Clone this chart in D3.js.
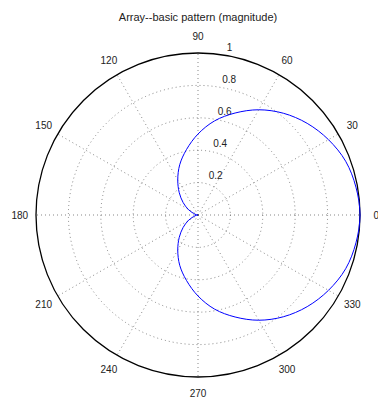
<!DOCTYPE html>
<html>
<head>
<meta charset="utf-8">
<script src="https://cdn.jsdelivr.net/npm/d3@7"></script>
<style>
  body { margin: 0; background: #fff; }
  text { font-family: "Liberation Sans", Arial, sans-serif; fill: #222; }
</style>
</head>
<body>
<svg width="378" height="399"></svg>
<script>
// angles (degrees) of the pattern samples
const angles = [0, 10, 20, 30, 40, 50, 60, 70, 80, 90, 100, 110, 120, 130, 140, 150, 160, 170,
  180, 190, 200, 210, 220, 230, 240, 250, 260, 270, 280, 290, 300, 310, 320, 330, 340, 350];
const magnitude = [1.0, 0.99, 0.97, 0.93, 0.88, 0.82, 0.75, 0.67, 0.59, 0.5, 0.41, 0.33, 0.25, 0.18, 0.12, 0.07, 0.03, 0.01,
  0.0, 0.01, 0.03, 0.07, 0.12, 0.18, 0.25, 0.33, 0.41, 0.5, 0.59, 0.67, 0.75, 0.82, 0.88, 0.93, 0.97, 0.99];
const rTicks = [0.2, 0.4, 0.6, 0.8, 1];
const spokeAngles = [0, 30, 60, 90, 120, 150, 180, 210, 240, 270, 300, 330];

const cx = 198, cy = 215, R = 162;
const svg = d3.select("svg");
const r = d3.scaleLinear().domain([0, 1]).range([0, R]);
const rad = (d) => (d * Math.PI) / 180;

const g = svg.append("g").attr("transform", `translate(${cx},${cy})`);

// title
svg.append("text")
  .attr("x", cx)
  .attr("y", 21)
  .attr("text-anchor", "middle")
  .style("font-size", "11px")
  .text("Array--basic pattern (magnitude)");

// dotted range circles
g.selectAll(".rgrid")
  .data(rTicks.slice(0, -1))
  .enter()
  .append("circle")
  .attr("r", (d) => r(d))
  .attr("fill", "none")
  .attr("stroke", "#555")
  .attr("stroke-width", 0.7)
  .attr("stroke-dasharray", "1 3");

// dotted spokes
g.selectAll(".spoke")
  .data(spokeAngles)
  .enter()
  .append("line")
  .attr("x1", 0)
  .attr("y1", 0)
  .attr("x2", (d) => r(1) * Math.cos(rad(d)))
  .attr("y2", (d) => -r(1) * Math.sin(rad(d)))
  .attr("stroke", "#555")
  .attr("stroke-width", 0.7)
  .attr("stroke-dasharray", "1 3");

// outer circle
g.append("circle")
  .attr("r", r(1))
  .attr("fill", "none")
  .attr("stroke", "#000")
  .attr("stroke-width", 1.3);

// radial tick labels at 82 deg
const c82 = Math.cos(rad(82)), s82 = Math.sin(rad(82));
g.selectAll(".rlabel")
  .data(rTicks)
  .enter()
  .append("text")
  .attr("x", (d) => r(d + 0.01) * c82 + 6)
  .attr("y", (d) => -r(d + 0.01) * s82 - 2)
  .style("font-size", "10px")
  .text((d) => d3.format("")(d));

// angle labels
g.selectAll(".alabel")
  .data(spokeAngles)
  .enter()
  .append("text")
  .attr("x", (d) => r(1.1) * Math.cos(rad(d)))
  .attr("y", (d) => -r(1.1) * Math.sin(rad(d)))
  .attr("text-anchor", "middle")
  .attr("dominant-baseline", "central")
  .style("font-size", "10px")
  .text((d) => d);

// pattern
const line = d3.lineRadial()
  .angle((d, i) => rad(90 - angles[i]))
  .radius((d) => r(d))
  .curve(d3.curveCatmullRomClosed);

g.append("path")
  .datum(magnitude)
  .attr("d", line)
  .attr("fill", "none")
  .attr("stroke", "#0000ff")
  .attr("stroke-width", 1);
</script>
</body>
</html>
